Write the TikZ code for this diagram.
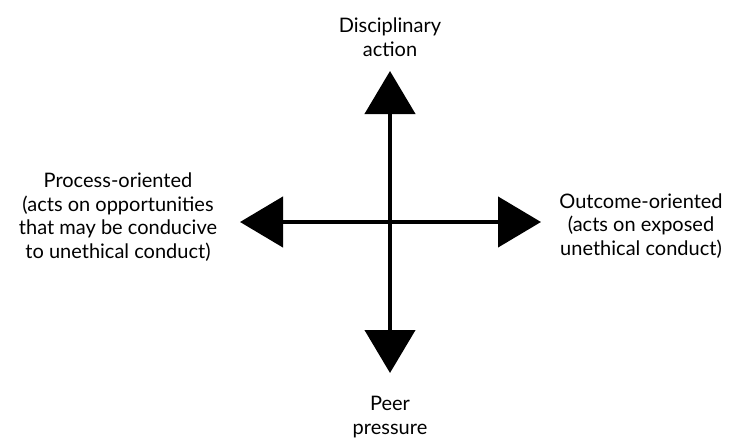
\documentclass[tikz,border=0pt]{standalone}
\usepackage{fontspec}
\setmainfont{Lato}
\usetikzlibrary{arrows.meta}
\begin{document}
\begin{tikzpicture}[x=1pt,y=-1pt,
  axis/.style={line width=4.5pt, {Triangle[length=43pt,width=50pt]}-{Triangle[length=43pt,width=50pt]}},
  lbl/.style={align=center, font=\fontsize{20}{23.5}\selectfont, inner sep=0pt}]
\useasboundingbox (0,0) rectangle (732,439);
\coordinate (top) at (390,71);
\coordinate (bottom) at (390,373);
\coordinate (left) at (240,222);
\coordinate (right) at (541,222);
\draw[axis] (top) -- (bottom);
\draw[axis] (left) -- (right);
\node[lbl] (disc) at (390,37) {Disciplinary\\action};
\node[lbl] (peer) at (390,417) {Peer\\pressure};
\node[lbl] (proc) at (118,217) {Process-oriented\\(acts on opportunities\\that may be conducive\\to unethical conduct)};
\node[lbl] (out) at (641,226) {Outcome-oriented\\(acts on exposed\\unethical conduct)};
\end{tikzpicture}
\end{document}
